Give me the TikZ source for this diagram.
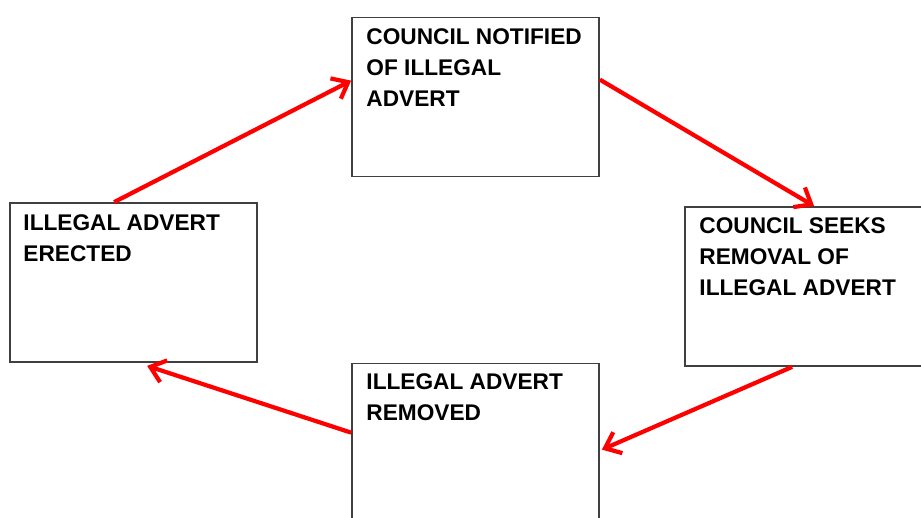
\documentclass[tikz,border=0pt]{standalone}
\usepackage{fontspec}
\setmainfont{Liberation Sans}
\usetikzlibrary{calc,arrows.meta}

\begin{document}
\begin{tikzpicture}[x=0.02cm, y=-0.02cm,
		stage/.style={draw=black!75, line width=1pt, minimum width=247*0.02cm, minimum height=159*0.02cm, inner sep=0pt},
		caption/.style={anchor=north west, inner sep=0pt, align=left, font=\fontsize{12.9}{17.6}\selectfont\bfseries},
		flow/.style={draw=red, line width=2.4pt, -{Straight Barb[length=8pt,width=13pt]}}]
	%%%%% START %%%%%
	\useasboundingbox (0, 0) rectangle (921, 518);
	
	\node[stage] (notified) at (475.5, 97) {};
	\node[stage] (erected) at (133.5, 282.5) {};
	\node[stage] (seeks) at (808.5, 286.5) {};
	\node[stage] (removed) at (475.5, 443) {};
	
	\node[caption] (notifiedtext) at ($(notified.north west)+(15, 12)$) {COUNCIL NOTIFIED\\OF ILLEGAL\\ADVERT};
	\node[caption] (erectedtext) at ($(erected.north west)+(14, 12)$) {ILLEGAL ADVERT\\ERECTED};
	\node[caption] (seekstext) at ($(seeks.north west)+(15, 11)$) {COUNCIL SEEKS\\REMOVAL OF\\ILLEGAL ADVERT};
	\node[caption] (removedtext) at ($(removed.north west)+(15, 11)$) {ILLEGAL ADVERT\\REMOVED};
	
	\draw[flow] ($(erected.north west)+(105, 0)$) -- ($(notified.north west)+(0, 64)$);
	\draw[flow] ($(notified.north east)+(0, 63)$) -- ($(seeks.north west)+(130, 0)$);
	\draw[flow] ($(seeks.south west)+(108, 0)$) -- ($(removed.north east)+(2, 87)$);
	\draw[flow] ($(removed.north west)+(0, 70)$) -- ($(erected.south west)+(138, 3)$);
	
	%%%%% END %%%%%
\end{tikzpicture}
\end{document}
